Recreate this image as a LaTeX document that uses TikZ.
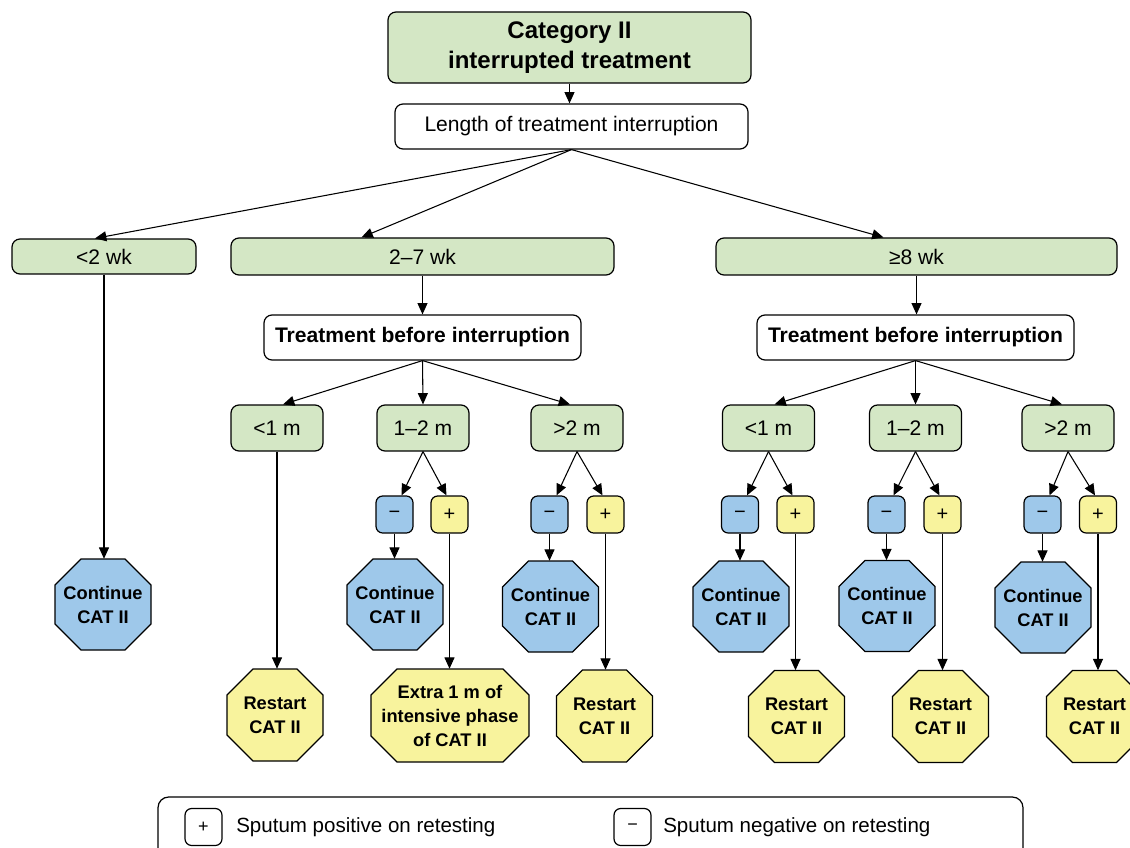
\documentclass[tikz,border=0pt]{standalone}
\usepackage{fontspec}
\setmainfont{Liberation Sans}
\usetikzlibrary{arrows.meta}
\def\px{0.75pt}
\definecolor{gr}{RGB}{212,231,197}
\definecolor{bl}{RGB}{158,200,234}
\definecolor{yl}{RGB}{248,243,157}
\newcommand\octnode[7]{%
  \filldraw[fill=#6, line width=0.9pt] ({#2-#4/2+26},{#3-#5/2}) -- ({#2+#4/2-26},{#3-#5/2}) -- ({#2+#4/2},{#3-#5/2+26}) -- ({#2+#4/2},{#3+#5/2-26}) -- ({#2+#4/2-26},{#3+#5/2}) -- ({#2-#4/2+26},{#3+#5/2}) -- ({#2-#4/2},{#3+#5/2-26}) -- ({#2-#4/2},{#3-#5/2+26}) -- cycle;
  \node[octtext, minimum width=#4*\px, minimum height=#5*\px] (#1) at (#2,#3) {#7};}
\begin{document}
\begin{tikzpicture}[x=0.75pt,y=-0.75pt,
  base/.style={draw, line width=0.9pt, rounded corners=6pt, align=center, inner sep=0pt, font=\fontsize{15.8pt}{19pt}\selectfont},
  gbox/.style={base, fill=gr},
  wbox/.style={base, fill=white},
  wh/.style 2 args={minimum width=#1*\px, minimum height=#2*\px},
  pmbox/.style={base, rounded corners=5pt, minimum width=37*\px, minimum height=37*\px, font=\fontsize{15pt}{17pt}\selectfont},
  octtext/.style={draw=none, rectangle, inner sep=0pt, align=center, font=\fontsize{13.7pt}{18pt}\selectfont\bfseries},
  conn/.style={-{Triangle[length=8.5pt,width=7.5pt]}, line width=0.8pt},
  line/.style={line width=0.8pt}]
\useasboundingbox (0,0) rectangle (1130,848);

% top
\node[gbox, wh={363}{71}, font=\fontsize{18pt}{22.5pt}\selectfont\bfseries] (top) at (569.5,47.5) {Category II\\interrupted treatment};
\node[wbox, wh={353}{45}] (len) at (571.5,126.5) {Length of treatment interruption};

% weeks
\node[gbox, wh={184}{35}] (w1) at (104,256.5) {<2 wk};
\node[gbox, wh={383}{37}] (w2) at (422.5,256.5) {2--7 wk};
\node[gbox, wh={401}{37}] (w3) at (916.5,256.5) {≥8 wk};

% treatment before
\node[wbox, wh={317}{45}, font=\fontsize{15.8pt}{19pt}\selectfont\bfseries] (tl) at (422.5,337.5) {Treatment before interruption};
\node[wbox, wh={317}{45}, font=\fontsize{15.8pt}{19pt}\selectfont\bfseries] (tr) at (915.5,337.5) {Treatment before interruption};

% months
\node[gbox, wh={92}{46}] (a1) at (277,428) {<1 m};
\node[gbox, wh={92}{46}] (a2) at (423,428) {1--2 m};
\node[gbox, wh={92}{46}] (a3) at (577,428) {>2 m};
\node[gbox, wh={92}{46}] (b1) at (768.5,428) {<1 m};
\node[gbox, wh={92}{46}] (b2) at (915.5,428) {1--2 m};
\node[gbox, wh={92}{46}] (b3) at (1068,428) {>2 m};

% plus / minus
\node[pmbox, fill=bl] (n2) at (394.5,514.5) {−};
\node[pmbox, fill=yl] (p2) at (449.5,514.5) {+};
\node[pmbox, fill=bl] (n3) at (549.5,514.5) {−};
\node[pmbox, fill=yl] (p3) at (605.5,514.5) {+};
\node[pmbox, fill=bl] (n4) at (740,514.5) {−};
\node[pmbox, fill=yl] (p4) at (795.5,514.5) {+};
\node[pmbox, fill=bl] (n5) at (886.5,514.5) {−};
\node[pmbox, fill=yl] (p5) at (942.5,514.5) {+};
\node[pmbox, fill=bl] (n6) at (1042.5,514.5) {−};
\node[pmbox, fill=yl] (p6) at (1098,514.5) {+};

% outcomes
\octnode{c0}{103}{604.5}{96}{91}{bl}{Continue\\CAT II}
\octnode{r1}{275}{715}{96}{92}{yl}{Restart\\CAT II}
\octnode{c2}{395}{604.5}{96}{91}{bl}{Continue\\CAT II}
\octnode{e2}{450}{715.5}{158}{93}{yl}{Extra 1 m of\\intensive phase\\of CAT II}
\octnode{c3}{550.5}{606.5}{96}{91}{bl}{Continue\\CAT II}
\octnode{r3}{604.5}{716}{96}{92}{yl}{Restart\\CAT II}
\octnode{c4}{741}{606.5}{96}{91}{bl}{Continue\\CAT II}
\octnode{r4}{796.5}{716.5}{96}{92}{yl}{Restart\\CAT II}
\octnode{c5}{887}{606}{96}{91}{bl}{Continue\\CAT II}
\octnode{r5}{940.5}{716.5}{96}{92}{yl}{Restart\\CAT II}
\octnode{c6}{1043}{607.5}{96}{91}{bl}{Continue\\CAT II}
\octnode{r6}{1094.5}{716.5}{96}{92}{yl}{Restart\\CAT II}

% connectors
\draw[conn] (top.south) -- (top.south |- len.north);
\draw[conn] (len.south) -- ([xshift=-9*\px]w1.north);
\draw[conn] (len.south) -- ([xshift=-61*\px]w2.north);
\draw[conn] (len.south) -- ([xshift=-33*\px]w3.north);
\draw[conn] (w1.south) -- (w1.south |- c0.north);
\draw[conn] (w2.south) -- (w2.south |- tl.north);
\draw[conn] (w3.south) -- (w3.south |- tr.north);

\draw[conn] (tl.south) -- ([xshift=6*\px]a1.north);
\draw[conn] (tl.south) -- (a2.north);
\draw[conn] (tl.south) -- ([xshift=-7*\px]a3.north);
\draw[conn] (tr.south) -- ([xshift=6*\px]b1.north);
\draw[conn] (tr.south) -- (b2.north);
\draw[conn] (tr.south) -- ([xshift=-6*\px]b3.north);

\draw[conn] (a1.south) -- (a1.south |- r1.north);
\foreach \m/\n/\p in {a2/n2/p2, a3/n3/p3, b1/n4/p4, b2/n5/p5, b3/n6/p6}{
  \draw[conn] (\m.south) -- ([xshift=7*\px]\n.north);
  \draw[conn] (\m.south) -- ([xshift=-3*\px]\p.north);
}
\draw[conn] (n2.south) -- (n2.south |- c2.north);
\draw[conn] (p2.south) -- (p2.south |- e2.north);
\draw[conn] (n3.south) -- (n3.south |- c3.north);
\draw[conn] (p3.south) -- (p3.south |- r3.north);
\draw[conn] (n4.south) -- (n4.south |- c4.north);
\draw[conn] (p4.south) -- (p4.south |- r4.north);
\draw[conn] (n5.south) -- (n5.south |- c5.north);
\draw[conn] (p5.south) -- (p5.south |- r5.north);
\draw[conn] (n6.south) -- (n6.south |- c6.north);
\draw[conn] (p6.south) -- (p6.south |- r6.north);

% legend
\node[wbox, rounded corners=8pt, wh={865}{70}] (leg) at (590.5,832) {};
\node[pmbox, fill=white, font=\fontsize{13.5pt}{16pt}\selectfont] (lp) at (203.5,827) {+};
\node[anchor=west, inner sep=0pt, font=\fontsize{15.4pt}{18pt}\selectfont] (lpt) at (236,827) {Sputum positive on retesting};
\node[pmbox, fill=white, font=\fontsize{13.5pt}{16pt}\selectfont] (lm) at (632.5,827) {−};
\node[anchor=west, inner sep=0pt, font=\fontsize{15.4pt}{18pt}\selectfont] (lmt) at (663,827) {Sputum negative on retesting};
\end{tikzpicture}
\end{document}
